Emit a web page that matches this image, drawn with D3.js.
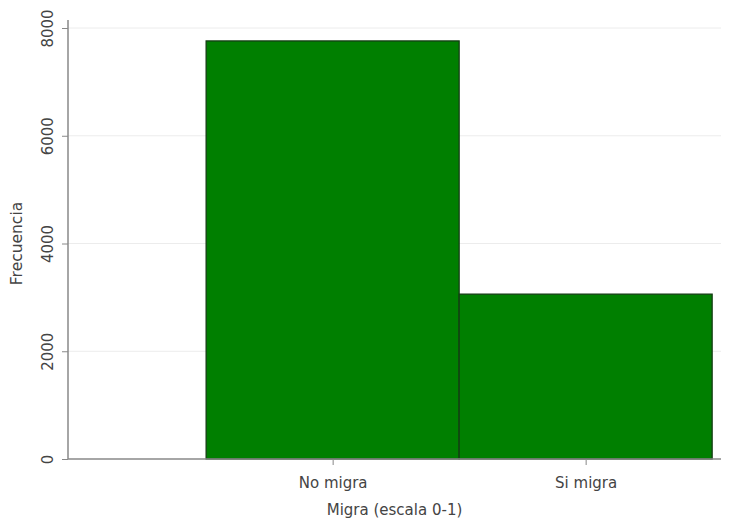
<!DOCTYPE html>
<html><head><meta charset="utf-8">
<script src="https://cdn.jsdelivr.net/npm/d3@7"></script>
<style>body{margin:0;background:#fff}svg{display:block}text{font-family:"DejaVu Sans",Verdana,sans-serif}</style>
</head><body>
<script>
const categories = ["No migra", "Si migra"];
const catValues = [0, 1];
const frequencies = [7760, 3060];
const yTicks = [0, 2000, 4000, 6000, 8000];

(function(){
const W = 729, H = 524;
const svg = d3.select("body").append("svg").attr("width", W).attr("height", H);
const pL = 68, pR = 721, pT = 28, pB = 459;
const fs = 15;

const x = d3.scaleLinear().domain([-1.046, 1.535]).range([pL, pR]);
const y = d3.scaleLinear().domain([0, 8000]).range([pB, pT]);

// gridlines
svg.append("g").selectAll("line").data(yTicks.filter(d => d > 0)).join("line")
  .attr("x1", pL).attr("x2", pR).attr("y1", d => y(d)).attr("y2", d => y(d))
  .attr("stroke", "#ececec").attr("stroke-width", 1);

// bars
svg.append("g").selectAll("rect").data(catValues).join("rect")
  .attr("x", d => x(d - 0.5))
  .attr("width", d => x(d + 0.5) - x(d - 0.5))
  .attr("y", (d, i) => y(frequencies[i]))
  .attr("height", (d, i) => y(0) - y(frequencies[i]))
  .attr("fill", "#007f00").attr("stroke", "#143d14").attr("stroke-width", 1.3);

// y axis
const yAxis = svg.append("g").attr("transform", `translate(${pL},0)`)
  .call(d3.axisLeft(y).tickValues(yTicks).tickSize(6).tickFormat(d3.format("d")));
yAxis.select(".domain").attr("stroke", "#888").attr("stroke-width", 1.5).attr("d", `M0,${pT - 8}V${pB}`);
yAxis.selectAll(".tick line").attr("stroke", "#888");
yAxis.selectAll(".tick text").attr("fill", "#444").attr("font-size", fs)
  .attr("x", null).attr("y", null).attr("dy", null)
  .attr("text-anchor", "middle")
  .attr("transform", "translate(-15,0) rotate(-90)");

// x axis
const xAxis = svg.append("g").attr("transform", `translate(0,${pB})`)
  .call(d3.axisBottom(x).tickValues(catValues).tickSize(6).tickPadding(12)
    .tickFormat((d, i) => categories[i]));
xAxis.select(".domain").attr("stroke", "#888").attr("stroke-width", 1.5).attr("d", `M${pL},0H${pR}`);
xAxis.selectAll(".tick line").attr("stroke", "#888");
xAxis.selectAll(".tick text").attr("fill", "#444").attr("font-size", fs);

// axis titles
svg.append("text").attr("x", (pL + pR) / 2).attr("y", 515).attr("text-anchor", "middle")
  .attr("font-size", fs).attr("fill", "#444").text("Migra (escala 0-1)");
svg.append("text").attr("transform", `translate(22,${(pT + pB) / 2}) rotate(-90)`)
  .attr("text-anchor", "middle").attr("font-size", 15.5).attr("fill", "#444").text("Frecuencia");
})();
</script>
</body></html>
